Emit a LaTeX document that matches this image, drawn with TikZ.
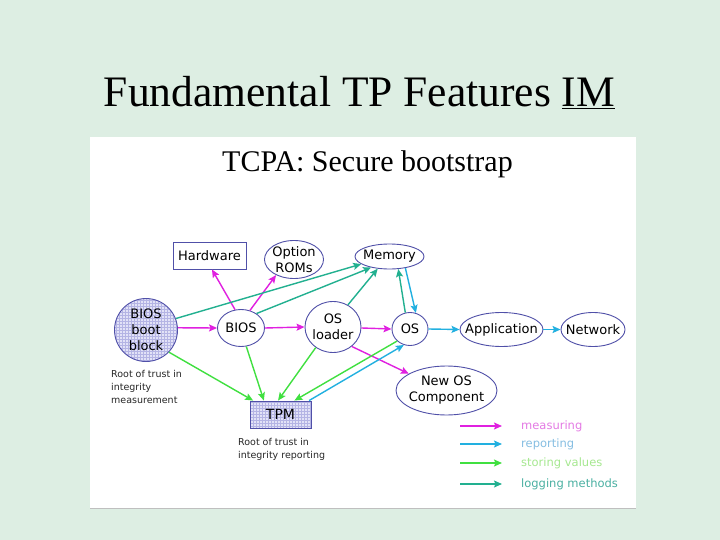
\documentclass[tikz,border=0pt]{standalone}
\usepackage{fontspec}
\setmainfont{Liberation Serif}
\newfontfamily\verd{DejaVu Sans}
\usetikzlibrary{shapes.geometric,arrows.meta,calc}
\definecolor{bgc}{HTML}{DDEEE3}
\definecolor{edgec}{HTML}{5050A8}
\definecolor{fillc}{HTML}{E2E2F7}
\definecolor{gridc}{HTML}{B4B4E4}
\definecolor{meas}{HTML}{E020E0}
\definecolor{rep}{HTML}{22B0E0}
\definecolor{stor}{HTML}{40E040}
\definecolor{logc}{HTML}{22B090}
\definecolor{measl}{HTML}{E47AE4}
\definecolor{repl}{HTML}{86BEE2}
\definecolor{storl}{HTML}{A6E890}
\definecolor{logl}{HTML}{4AB0A2}
\tikzset{
  lab/.style={font=\verd\fontsize{13}{16}\selectfont, align=center, inner sep=0pt},
  el/.style={ellipse, draw=edgec, line width=0.9pt, fill=white, inner sep=0pt},
  bx/.style={rectangle, draw=edgec, line width=0.9pt, fill=white, inner sep=0pt},
  gridfill/.style={fill=fillc, path picture={\draw[gridc, line width=0.25pt]
      (path picture bounding box.south west) grid[step=3pt] (path picture bounding box.north east);}},
  arr/.style={-{Stealth[length=8pt,width=7pt,inset=1.5pt]}, line width=1.4pt},
  note/.style={font=\verd\fontsize{9.5}{13}\selectfont, align=left, inner sep=0pt, text=black!85},
  leg/.style={font=\verd\fontsize{11.5}{14}\selectfont, inner sep=0pt, anchor=base west}
}
\begin{document}
\begin{tikzpicture}[x=1pt,y=-1pt]
\useasboundingbox (0,0) rectangle (720,540);
\fill[bgc] (0,0) rectangle (720,540);
\fill[white] (90,137) rectangle (636,508);
\draw[black!25, line width=0.8pt] (90,508) -- (636,508);

\node[anchor=base, font=\fontsize{43.5}{48}\selectfont, inner sep=0pt] (title) at (359.5,107) {Fundamental TP Features \underline{IM}};
\node[anchor=base, font=\fontsize{30}{36}\selectfont, inner sep=0pt] (sub) at (367.5,172) {TCPA: Secure bootstrap};

% nodes
\node[bx, minimum width=73pt, minimum height=27pt, label={[lab]center:Hardware}] (HW) at (209.5,255.5) {};
\node[el, minimum width=59pt, minimum height=38pt, label={[lab]center:{Option\\ROMs}}] (ROM) at (294,259.5) {};
\node[el, minimum width=69pt, minimum height=25pt, label={[lab]center:Memory}] (MEM) at (389.5,256.5) {};
\node[circle, draw=edgec, line width=0.9pt, gridfill, minimum size=63pt, inner sep=0pt, label={[lab]center:{BIOS\\boot\\block}}] (BBB) at (146,330) {};
\node[el, minimum width=47pt, minimum height=37pt, label={[lab]center:BIOS}] (BIOS) at (241,328) {};
\node[el, minimum width=56pt, minimum height=51pt, label={[lab]center:{OS\\loader}}] (OSL) at (333,327) {};
\node[el, minimum width=36pt, minimum height=33pt, label={[lab]center:OS}] (OS) at (410,329) {};
\node[el, minimum width=83pt, minimum height=34pt, label={[lab]center:Application}] (APP) at (501.5,329.5) {};
\node[el, minimum width=64pt, minimum height=34pt, label={[lab]center:Network}] (NET) at (593,329.5) {};
\node[el, minimum width=101pt, minimum height=49pt, label={[lab]center:{New OS\\Component}}] (NOS) at (446.5,390.5) {};
\node[bx, gridfill, minimum width=61pt, minimum height=27pt, label={[lab, font=\verd\fontsize{14}{16}\selectfont]center:TPM}] (TPM) at (280.5,414.5) {};

\node[note, anchor=north west] (rtm) at (111,370) {Root of trust in\\integrity\\measurement};
\node[note, anchor=north west] (rtr) at (238,438) {Root of trust in\\integrity reporting};

% measuring
\draw[arr, meas] (BBB.4) -- (BIOS.180);
\draw[arr, meas] (BIOS.108) -- (HW.-80);
\draw[arr, meas] (BIOS.63) -- (ROM.-139);
\draw[arr, meas] (BIOS.0) -- (OSL.180);
\draw[arr, meas] (OSL.-2) -- (OS.180);
\draw[arr, meas] (OSL.-46) -- (NOS.156);

% logging
\draw[arr, logc] (BBB.21) -- (MEM.-165);
\draw[arr, logc] (BIOS.43) -- (MEM.-149);
\draw[arr, logc] (OSL.56) -- (MEM.-134);
\draw[arr, logc] (OS.106) -- (MEM.-55);

% reporting
\draw[arr, rep] (MEM.-36) -- (OS.70);
\draw[arr, rep] (OS.0) -- (APP.180);
\draw[arr, rep] (APP.0) -- (NET.180);
\draw[arr, rep] (TPM.26) -- (OS.-111);

% storing
\draw[arr, stor] (BBB.-44) -- (TPM.153);
\draw[arr, stor] (BIOS.-74) -- (TPM.140);
\draw[arr, stor] (OSL.-130) -- (TPM.100);
\draw[arr, stor] (OS.-137) -- (TPM.45);

% legend
\coordinate (m1) at (460,426); \coordinate (m2) at (502,426);
\coordinate (r1) at (460,444); \coordinate (r2) at (502,444);
\coordinate (s1) at (460,463); \coordinate (s2) at (502,463);
\coordinate (l1) at (460,484); \coordinate (l2) at (502,484);
\draw[arr, meas] (m1) -- (m2);
\draw[arr, rep, line width=1.1pt] (r1) -- (r2);
\draw[arr, stor] (s1) -- (s2);
\draw[arr, logc, line width=1.1pt] (l1) -- (l2);
\node[leg, text=measl] (lm) at (521,429.5) {measuring};
\node[leg, text=repl] (lr) at (521,447.5) {reporting};
\node[leg, text=storl] (ls) at (521,466.5) {storing values};
\node[leg, text=logl] (ll) at (521,487.5) {logging methods};
\end{tikzpicture}
\end{document}
